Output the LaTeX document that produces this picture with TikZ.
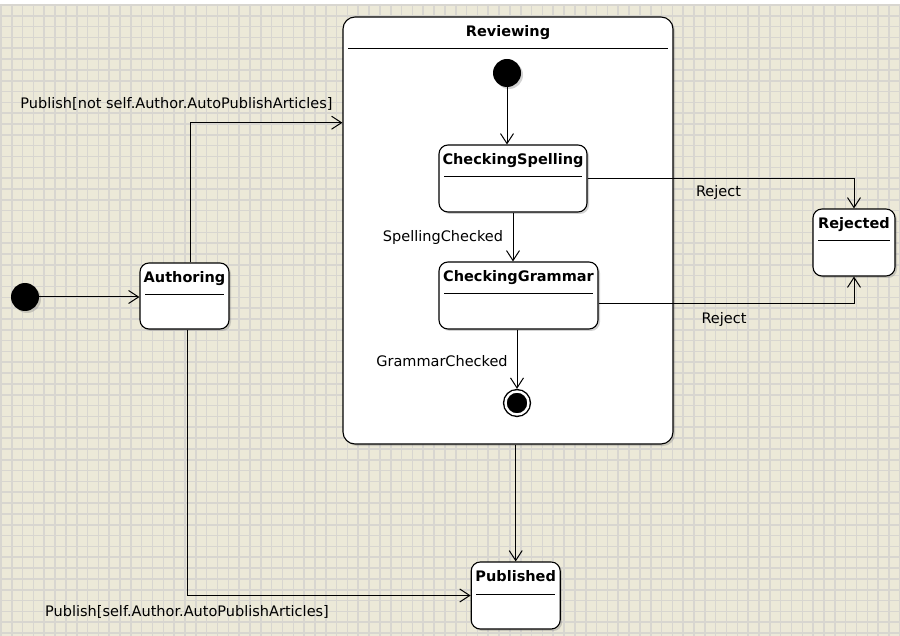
\documentclass[tikz,border=0pt]{standalone}
\usepackage{fontspec}
\setmainfont{DejaVu Sans}
\usetikzlibrary{arrows.meta,shadows}
\definecolor{canvasbg}{RGB}{236,233,216}
\definecolor{gridgrey}{RGB}{216,214,208}
\tikzset{
  state/.style={draw, fill=white, line width=1.1pt, rounded corners=9pt,
    drop shadow={shadow xshift=2pt, shadow yshift=-2pt, opacity=0.35},
    path picture={\draw[line width=1pt]
      ([shift={(5pt,-32pt)}]path picture bounding box.north west) --
      ([shift={(-5pt,-32pt)}]path picture bounding box.north east);},
    label={[statetitle]north:#1}},
  statetitle/.style={anchor=north, yshift=-7pt, inner sep=2pt,
    font=\fontsize{14.5}{16}\selectfont\bfseries},
  initial/.style={circle, fill=black, minimum size=28pt, inner sep=0pt,
    drop shadow={shadow xshift=2pt, shadow yshift=-2pt, opacity=0.35}},
  final/.style={circle, fill=black, draw, line width=1.4pt, double=white,
    double distance=2.4pt, minimum size=23pt, inner sep=0pt},
  trans/.style={line width=1pt, -{Straight Barb[length=10pt,width=13pt,line width=1pt]}},
  trlabel/.style={anchor=base, inner sep=0pt, font=\fontsize{14.5}{16}\selectfont},
  gridline/.style={gridgrey, line width=1.6pt}
}
\begin{document}
\begin{tikzpicture}[x=1pt,y=-1pt]
\useasboundingbox (0,0) rectangle (900,636);
\fill[canvasbg] (0,0) rectangle (900,636);
\fill[white] (0,0) rectangle (900,4);
% grid
\foreach \i in {0,...,83}
  \draw[gridline] ({0.9+10.83*\i},4) -- ++(0,632);
\foreach \j in {0,...,58}
  \draw[gridline] (0,{4.9+10.83*\j}) -- ++(900,0);

% states
\node[initial] (start) at (25,297) {};
\node[state=Authoring, minimum width=89pt, minimum height=66pt] (authoring) at (184.5,296) {};
\node[state=Reviewing, rounded corners=12pt, minimum width=330pt, minimum height=427pt] (reviewing) at (508,230.5) {};
\node[initial] (revstart) at (507,73) {};
\node[state=CheckingSpelling, minimum width=148pt, minimum height=67pt] (spelling) at (513,178.5) {};
\node[state=CheckingGrammar, minimum width=159pt, minimum height=67pt] (grammar) at (518.5,295.5) {};
\node[final] (revend) at (517,403) {};
\node[state=Rejected, minimum width=82pt, minimum height=67pt] (rejected) at (854,242.5) {};
\node[state=Published, minimum width=89pt, minimum height=67pt] (published) at (515.7,595.5) {};

\coordinate (pubup) at (190.5,122.7);
\coordinate (pubdown) at (187,0);

% transitions
\draw[trans] (start) -- (start -| authoring.west);
\draw[trans] (authoring.north -| pubup) |- (reviewing.west |- pubup);
\draw[trans] (authoring.south -| pubdown) |- (published.west);
\draw[trans] (revstart) -- (revstart |- spelling.north);
\draw[trans] (spelling.south) -- (spelling.south |- grammar.north);
\draw[trans] (revend |- grammar.south) -- ([yshift=2pt]revend.north);
\draw[trans] (spelling.east) -| (rejected.north);
\draw[trans] ([yshift=-8pt]grammar.east) -| (rejected.south);
\draw[trans] (reviewing.south -| published.north) -- (published.north);

% labels
\node[trlabel] (lblnotauto) at (176.5,108.5) {Publish[not self.Author.AutoPublishArticles]};
\node[trlabel] (lblauto) at (187,616) {Publish[self.Author.AutoPublishArticles]};
\node[trlabel] (lblspelling) at (443,242) {SpellingChecked};
\node[trlabel] (lblgrammar) at (442,366.5) {GrammarChecked};
\node[trlabel] (lblreject1) at (718.5,197) {Reject};
\node[trlabel] (lblreject2) at (724,324) {Reject};
\end{tikzpicture}
\end{document}
